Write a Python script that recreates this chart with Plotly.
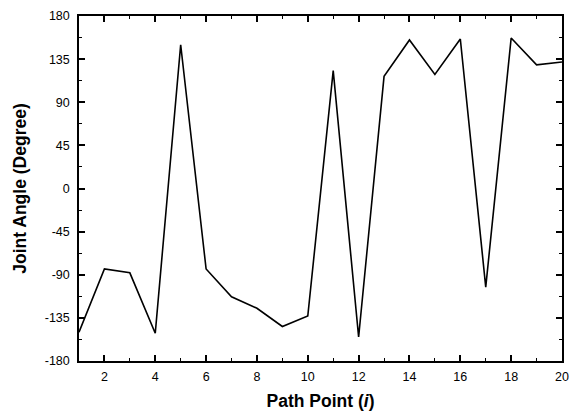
import plotly.graph_objects as go

path_point = list(range(1, 21))
joint_angle = [-150, -84, -88, -151, 150, -84, -113, -125, -144, -133,
               123, -155, 117, 155, 119, 156, -103, 157, 129, 132]

x_ticks = [2, 4, 6, 8, 10, 12, 14, 16, 18, 20]
y_ticks = [-180, -135, -90, -45, 0, 45, 90, 135, 180]
y_tick_labels = ["-180", "-135", "-90", "-45", "0", "45", "90", "135", "180"]

fig = go.Figure()
fig.add_trace(go.Scatter(x=path_point, y=joint_angle, mode="lines",
                         line=dict(color="black", width=1.6), showlegend=False))

axis_common = dict(showline=True, linecolor="black", linewidth=1.5, mirror="ticks",
                   ticks="inside", ticklen=6, tickwidth=1.5, tickcolor="black",
                   showgrid=False, zeroline=False,
                   tickfont=dict(family="Liberation Sans, Arial", size=12.5, color="black"))

fig.update_xaxes(range=[1, 20], tickvals=x_ticks, ticklabelstandoff=3,
                 minor=dict(ticks="inside", ticklen=3, tickwidth=1.2, tickcolor="black", dtick=1, tick0=1, showgrid=False),
                 title=dict(text="<b>Path Point (<i>i</i>)</b>", font=dict(family="Liberation Sans, Arial", size=17.5, color="black"), standoff=12),
                 **axis_common)
fig.update_yaxes(range=[-180, 180], tickvals=y_ticks, ticktext=y_tick_labels, ticklabelstandoff=5,
                 minor=dict(ticks="inside", ticklen=3, tickwidth=1.2, tickcolor="black", dtick=22.5, tick0=0, showgrid=False),
                 title=dict(text="<b>Joint Angle (Degree)</b>", font=dict(family="Liberation Sans, Arial", size=17.5, color="black"), standoff=14),
                 **axis_common)

fig.update_layout(width=578, height=417, plot_bgcolor="white", paper_bgcolor="white",
                  margin=dict(l=79, r=9, t=14, b=55))

fig.write_html("out.html", config={"displayModeBar": False},
               post_script="document.body.style.margin='0';document.body.style.overflow='hidden';")
